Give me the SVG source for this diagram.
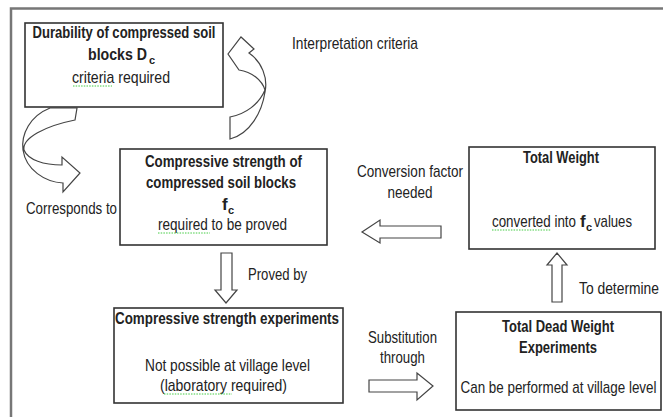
<svg xmlns="http://www.w3.org/2000/svg" width="663" height="417" viewBox="0 0 663 417">
<style>
text{font-family:"Liberation Sans Narrow","Liberation Sans",Arial,sans-serif;font-size:17px;fill:#222}
.c{text-anchor:middle}
.b{font-weight:bold}
.sub{font-size:11px}
.box{fill:#fff;stroke:#333;stroke-width:1.6}
.arr{fill:#fff;stroke:#444;stroke-width:1.2;stroke-linejoin:miter}
.frame{stroke:#777;stroke-width:2.5;fill:none}
.sq{fill:none;stroke:#4c4;stroke-width:1;stroke-dasharray:1.5 1.2}
</style>
<rect x="0" y="0" width="663" height="417" fill="#fff"/>
<path class="frame" d="M11,417 V8.5 H663"/>

<g id="connectors">
<path class="arr" d="M50,108 C30,116 21,134 23,150 C26,170 45,182 63,183 L63,192 L80,173 L62,157 L62,165 C44,165 28,160 24,150 C22,138 45,126 75,120 L77,108 Z"/>
<path class="arr" d="M230,117 C246,114 259,104 265,90 C262,80 252,72 239,70 L228,54 L241,37 L254,49 L249,53 C262,62 268,78 265,92 C262,112 250,134 230,139 Z"/>
<path class="arr" d="M221,253 H232 V290 H237 L226,303 L215,290 H221 Z"/>
<path class="arr" d="M441,226 V238 H380 V243 L362,232 L380,220 V226 Z"/>
<path class="arr" d="M369,380 H417 V373 L433,386 L417,400 V392 H369 Z"/>
<path class="arr" d="M552,302 V265 H547 L557,253 L567,265 H562 V302 Z"/>
</g>

<g id="labels">
<text x="292" y="49" textLength="126" lengthAdjust="spacingAndGlyphs">Interpretation criteria</text>
<text x="26" y="214" textLength="91" lengthAdjust="spacingAndGlyphs">Corresponds to</text>
<text x="410" y="177" class="c" textLength="106" lengthAdjust="spacingAndGlyphs">Conversion factor</text>
<text x="410" y="198" class="c" textLength="45" lengthAdjust="spacingAndGlyphs">needed</text>
<text x="248" y="280" textLength="59" lengthAdjust="spacingAndGlyphs">Proved by</text>
<text x="579" y="294" textLength="80" lengthAdjust="spacingAndGlyphs">To determine</text>
<text x="402.5" y="343" class="c" textLength="69" lengthAdjust="spacingAndGlyphs">Substitution</text>
<text x="402.5" y="363" class="c" textLength="45" lengthAdjust="spacingAndGlyphs">through</text>
</g>

<g id="node-durability">
<rect class="box" x="25" y="23" width="198" height="84"/>
<text x="124" y="38" class="c b" textLength="183" lengthAdjust="spacingAndGlyphs">Durability of compressed soil</text>
<text x="88" y="60" class="b" textLength="59" lengthAdjust="spacingAndGlyphs">blocks D</text>
<text x="149" y="64" class="b sub">c</text>
<text x="121" y="83" class="c" textLength="98" lengthAdjust="spacingAndGlyphs">criteria required</text>
<path class="sq" d="M73,86 H112"/>
</g>

<g id="node-compressive-strength">
<rect class="box" x="120" y="149" width="207" height="96"/>
<text x="223.5" y="167" class="c b" textLength="157" lengthAdjust="spacingAndGlyphs">Compressive strength of</text>
<text x="221" y="188" class="c b" textLength="150" lengthAdjust="spacingAndGlyphs">compressed soil blocks</text>
<text x="222" y="210" class="b">f</text>
<text x="228" y="214" class="b sub">c</text>
<text x="222.5" y="230" class="c" textLength="129" lengthAdjust="spacingAndGlyphs">required to be proved</text>
<path class="sq" d="M158,233 H210"/>
</g>

<g id="node-total-weight">
<rect class="box" x="469" y="147" width="186" height="102"/>
<text x="561" y="163" class="c b" textLength="76" lengthAdjust="spacingAndGlyphs">Total Weight</text>
<text x="492" y="227" textLength="84" lengthAdjust="spacingAndGlyphs">converted into</text>
<text x="580" y="227" class="b">f</text>
<text x="586" y="231" class="b sub">c</text>
<text x="594" y="227" textLength="38" lengthAdjust="spacingAndGlyphs">values</text>
<path class="sq" d="M492,230 H551"/>
</g>

<g id="node-cs-experiments">
<rect class="box" x="114" y="308" width="229" height="95"/>
<text x="227" y="324" class="c b" textLength="224" lengthAdjust="spacingAndGlyphs">Compressive strength experiments</text>
<text x="227.5" y="371" class="c" textLength="165" lengthAdjust="spacingAndGlyphs">Not possible at village level</text>
<text x="223.5" y="391" class="c" textLength="127" lengthAdjust="spacingAndGlyphs">(laboratory required)</text>
<path class="sq" d="M164,394 H232"/>
</g>

<g id="node-dead-weight">
<rect class="box" x="456" y="312" width="205" height="98"/>
<text x="558" y="332" class="c b" textLength="112" lengthAdjust="spacingAndGlyphs">Total Dead Weight</text>
<text x="558" y="353" class="c b" textLength="78" lengthAdjust="spacingAndGlyphs">Experiments</text>
<text x="558.5" y="393" class="c" textLength="196" lengthAdjust="spacingAndGlyphs">Can be performed at village level</text>
</g>
</svg>
